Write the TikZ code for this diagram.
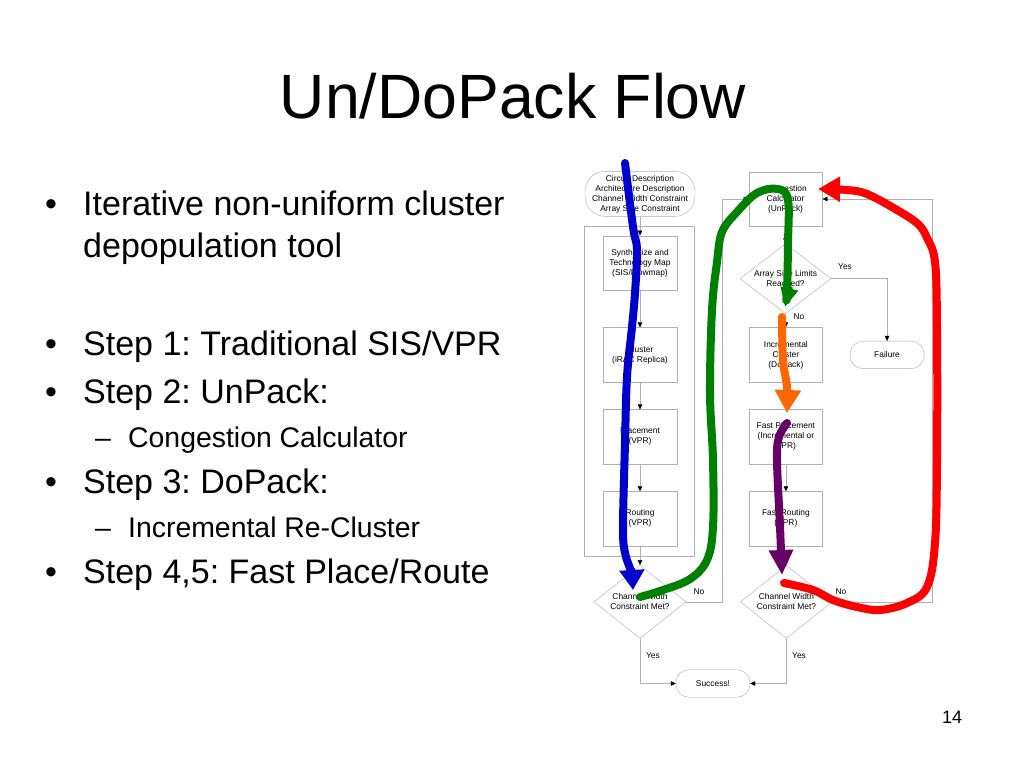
\documentclass[tikz,border=0pt]{standalone}
\usepackage{fontspec}
\setmainfont{Liberation Sans}
\usetikzlibrary{positioning,shapes.geometric,arrows.meta}

\definecolor{linegray}{RGB}{175,175,175}
\definecolor{penblue}{RGB}{0,0,204}
\definecolor{pengreen}{RGB}{0,128,0}
\definecolor{penorange}{RGB}{255,102,0}
\definecolor{penpurple}{RGB}{102,0,102}
\definecolor{penred}{RGB}{255,0,0}
\newcommand{\flowfont}{\fontsize{8.4}{10}\selectfont}
\frenchspacing

\begin{document}
\begin{tikzpicture}[
        x=1pt, y=-1pt,
        box/.style={draw=linegray, rectangle, minimum width=73.5pt, minimum height=54.5pt, inner sep=1pt, align=center, font=\flowfont},
        term/.style={draw=linegray, rectangle, rounded corners=13pt, minimum width=74pt, minimum height=27.5pt, align=center, font=\flowfont},
        decision/.style={draw=linegray, diamond, aspect=1.3, inner sep=0.5pt, minimum width=92pt, minimum height=73pt, align=center, font=\flowfont},
        link/.style={draw=linegray, -{Triangle[length=5pt,width=4.5pt,color=black]}},
        flowlabel/.style={font=\flowfont, inner sep=0pt},
        penstroke/.style={line width=8pt, line cap=round, line join=round},
        main/.style={anchor=base west, inner sep=0pt, font=\fontsize{34}{40}\selectfont},
        sub/.style={anchor=base west, inner sep=0pt, font=\fontsize{28.4}{34}\selectfont}
    ]
    \fill[white] (0,0) rectangle (1024,768);
    \useasboundingbox (0,0) rectangle (1024,768);

    % Title
    \node[anchor=base, inner sep=0pt, font=\fontsize{62.6}{70}\selectfont] (title) at (513,118) {Un/DoPack Flow};

    % Bullets
    \node[main] (dot1) at (45,215) {•};
    \node[main] (b1) at (83,215) {Iterative non-uniform cluster};
    \node[main] (b1b) at (83,257) {depopulation tool};
    \node[main] (dot2) at (45,355) {•};
    \node[main] (b2) at (83,355) {Step 1: Traditional SIS/VPR};
    \node[main] (dot3) at (45,403) {•};
    \node[main] (b3) at (83,403) {Step 2: UnPack:};
    \node[sub] (dash1) at (95,447) {–};
    \node[sub] (s1) at (128,447) {Congestion Calculator};
    \node[main] (dot4) at (45,493) {•};
    \node[main] (b4) at (83,493) {Step 3: DoPack:};
    \node[sub] (dash2) at (95,537) {–};
    \node[sub] (s2) at (128,537) {Incremental Re-Cluster};
    \node[main] (dot5) at (45,583) {•};
    \node[main] (b5) at (83,583) {Step 4,5: Fast Place/Route};

    % Page number
    \node[anchor=base, inner sep=0pt, font=\fontsize{18}{20}\selectfont] (page) at (952,723) {14};

    % Left column
    \draw[linegray] (584,226) rectangle (694,556);
    \node[box] (synth) at (640,263) {Synthesize and\\Technology Map\\(SIS/Flowmap)};
    \node[term, rounded corners=20pt, minimum width=110pt, minimum height=45pt, above=19pt of synth] (input) {Circuit Description\\Architecture Description\\Channel Width Constraint\\Array Size Constraint};
    \node[box, below=37pt of synth] (cluster) {Cluster\\(iRAC Replica)};
    \node[box, below=27pt of cluster] (place) {Placement\\(VPR)};
    \node[box, below=27pt of place] (route) {Routing\\(VPR)};
    \node[decision, below=19pt of route] (check1) {Channel Width\\Constraint Met?};

    % Right column
    \node[box] (cong) at (785.5,199) {Congestion\\Calculator\\(UnPack)};
    \node[decision, aspect=1.3, minimum width=91pt, minimum height=70pt, below=17pt of cong] (limit) {Array Size Limits\\Reached?};
    \node[box, right=72pt of cluster] (incr) {Incremental\\Cluster\\(DoPack)};
    \node[term, right=27pt of incr] (fail) {Failure};
    \node[box, right=72pt of place] (fplace) {Fast Placement\\(Incremental or\\VPR)};
    \node[box, right=72pt of route] (froute) {Fast Routing\\(VPR)};
    \node[decision, right=54pt of check1] (check2) {Channel Width\\Constraint Met?};
    \node[term] (success) at (713,683.5) {Success!};

    % Connectors
    \draw[link] (input) -- (synth);
    \draw[link] (synth) -- (cluster);
    \draw[link] (cluster) -- (place);
    \draw[link] (place) -- (route);
    \draw[link] (route) -- (check1);
    \draw[link] (cong) -- (limit);
    \draw[link] (limit) -- (incr);
    \draw[link] (incr) -- (fplace);
    \draw[link] (fplace) -- (froute);
    \draw[link] (froute) -- (check2);
    \draw[link] (limit.east) -| (fail.north);
    \draw[link] (check1.east) -- ++(36,0) |- (cong.west);
    \draw[link] (check2.east) -- ++(100,0) |- (cong.east);
    \draw[link] (check1.south) |- (success.west);
    \draw[link] (check2.south) |- (success.east);

    % Labels
    \node[flowlabel] (yes1) at (845,267) {Yes};
    \node[flowlabel] (no1) at (799,317) {No};
    \node[flowlabel] (no2) at (699,592) {No};
    \node[flowlabel] (no3) at (841,592) {No};
    \node[flowlabel] (yes2) at (653,656) {Yes};
    \node[flowlabel] (yes3) at (799,656) {Yes};

    % Hand-drawn strokes
    \draw[penstroke, penblue, -{Triangle[length=20pt,width=24pt]}] plot[smooth, tension=0.6] coordinates {(625,163) (633,227) (637,250) (635,293) (632,327) (627,377) (625,443) (623,527) (625,553) (631,572) (633,590)};
    \draw[penstroke, pengreen, -{Triangle[length=19pt,width=17pt]}] plot[smooth, tension=0.6] coordinates {(640,597) (663,590) (690,579) (707,560) (713,527) (713,460) (710,393) (712,310) (717,262) (722,232) (737,212) (757,193) (778,189) (788,200) (788,243) (787,290) (785,307)};
    \draw[penstroke, penorange, -{Triangle[length=23pt,width=25pt]}] plot[smooth, tension=0.6] coordinates {(782,317) (783,360) (787,387) (787,413)};
    \draw[penstroke, penpurple, -{Triangle[length=25pt,width=23pt]}] plot[smooth, tension=0.6] coordinates {(787,423) (779,437) (777,460) (780,527) (782,575)};
    \draw[penstroke, penred, -{Triangle[length=22pt,width=24pt]}] plot[smooth, tension=0.6] coordinates {(784,583) (813,590) (833,600) (857,607) (880,610) (907,603) (927,587) (935,543) (937,460) (937,327) (935,262) (927,238) (918,224) (897,210) (867,194) (847,190) (818,189)};

\end{tikzpicture}
\end{document}
